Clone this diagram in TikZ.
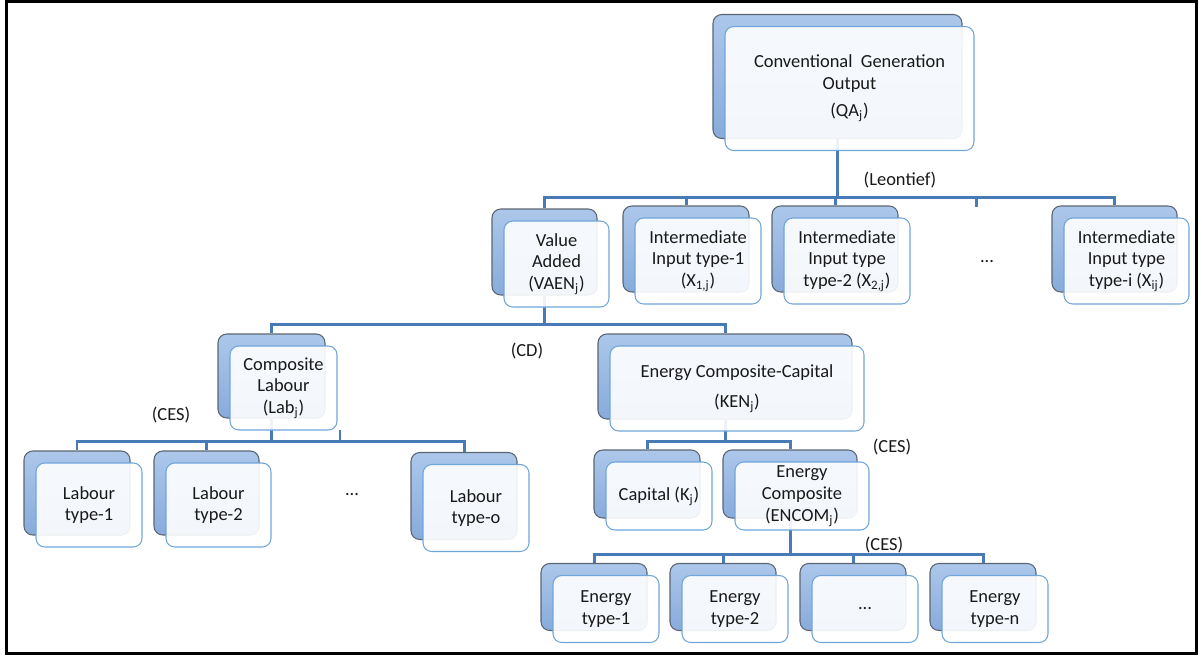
\documentclass[tikz,border=0pt]{standalone}
\usepackage{fontspec}
\setmainfont{Carlito}
\usepackage{xcolor}
\usetikzlibrary{calc}
\definecolor{linkblue}{RGB}{72,122,184}
\definecolor{backtop}{RGB}{172,199,234}
\definecolor{backbot}{RGB}{136,171,219}
\definecolor{backedge}{RGB}{92,102,115}
\definecolor{frontedge}{RGB}{112,166,218}
\definecolor{inktext}{RGB}{25,25,25}
\pgfdeclarelayer{bg}
\pgfsetlayers{bg,main}
\tikzset{
  backbox/.style={draw=backedge, line width=0.6pt, rounded corners=5pt,
    top color=backtop, bottom color=backbot, inner sep=0pt},
  frontbox/.style={draw=frontedge, line width=0.6pt, rounded corners=5pt,
    fill=white, fill opacity=0.9, text opacity=1, text=inktext, align=center,
    inner sep=0pt, font=\fontsize{10.5}{12.4}\selectfont},
  link/.style={draw=linkblue, line width=1.7pt},
  rule/.style={text=inktext, font=\fontsize{10.5}{12.4}\selectfont},
}
% back box named #1-b, front box named #1; #2,#3 = centre of back box
\newcommand{\twobox}[6]{%
  \node[backbox, minimum width=#4*0.02cm, minimum height=#5*0.02cm] (#1-b) at (#2,#3) {};
  \node[frontbox, minimum width=#4*0.02cm, minimum height=#5*0.02cm] (#1) at ($(#1-b)+(12,12)$) {#6};
}

\begin{document}
\begin{tikzpicture}[x=0.02cm, y=-0.02cm]
  \useasboundingbox (0,0) rectangle (1202,656);
  % frame
  \draw[line width=1.4pt] (6.5,1.5) rectangle (1196.5,653.5);

  % output
  \twobox{qa}{837.5}{76.5}{249}{124}{Conventional\ \ Generation\\Output\\[3pt](QA\textsubscript{j})}

  % value added and intermediate inputs
  \twobox{va}{544.5}{252}{105}{86}{Value\\Added\\(VAEN\textsubscript{j})}
  \twobox{xa}{686}{249}{126}{86}{Intermediate\\Input type-1\\(X\textsubscript{1,j})}
  \twobox{xb}{835}{249}{126}{86}{Intermediate\\Input type\\type-2 (X\textsubscript{2,j})}
  \twobox{xi}{1114.5}{249}{125}{86}{Intermediate\\Input type\\type-i (X\textsubscript{ij})}
  \node[rule] (xdots) at (987,262) {...};
  \coordinate (xdots-t) at (976,207);

  % labour and capital-energy
  \twobox{lab}{271.5}{376}{107}{84}{Composite\\Labour\\(Lab\textsubscript{j})}
  \twobox{ken}{725}{376.5}{254}{85}{Energy Composite-Capital\\[5pt](KEN\textsubscript{j})}

  % labour types
  \twobox{la}{77}{493}{106}{84}{Labour\\type-1}
  \twobox{lb}{206.5}{493}{105}{84}{Labour\\type-2}
  \twobox{lo}{464}{496}{106}{87}{Labour\\type-o}
  \node[rule] (ldots) at (352,495) {...};

  % capital and energy composite
  \twobox{cap}{647}{484}{106}{68}{Capital (K\textsubscript{j})}
  \twobox{encom}{790}{484}{134}{68}{Energy\\Composite\\(ENCOM\textsubscript{j})}

  % energy types
  \twobox{ea}{594}{597}{106}{67}{Energy\\type-1}
  \twobox{eb}{723}{597}{106}{67}{Energy\\type-2}
  \twobox{ec}{853}{597}{106}{67}{...}
  \twobox{en}{983}{597}{106}{67}{Energy\\type-n}

  % nesting labels
  \node[rule] (leontief) at (900,180) {(Leontief)};
  \node[rule] (cd) at (527,351) {(CD)};
  \node[rule] (ces-l) at (171,415) {(CES)};
  \node[rule] (ces-k) at (892,447) {(CES)};
  \node[rule] (ces-e) at (884,545) {(CES)};

  % connectors, behind the boxes
  \begin{pgfonlayer}{bg}
    \draw[link] (qa-b.south) -- ++(0,58.5) coordinate (lt);
    \foreach \k in {va-b,xa-b,xb-b,xi-b}
      \draw[link] (lt) -| (\k.north);
    \draw[link] (lt) -| (xdots-t);

    \draw[link] (va-b.south) -- ++(0,29) coordinate (lm);
    \foreach \k in {lab-b,ken-b}
      \draw[link] (lm) -| (\k.north);

    \draw[link] (lab-b.south) -- ++(0,23) coordinate (ll);
    \foreach \k in {la-b,lb-b,lo-b}
      \draw[link] (ll) -| (\k.north);
    \coordinate (labx) at (340,430);
    \draw[link] (labx) -- (labx |- ll);

    \draw[link] (ken-b.south) -- ++(0,22) coordinate (lr);
    \foreach \k in {cap-b,encom-b}
      \draw[link] (lr) -| (\k.north);

    \draw[link] (encom-b.south) -- ++(0,35.5) coordinate (le);
    \foreach \k in {ea-b,eb-b,ec-b,en-b}
      \draw[link] (le) -| (\k.north);
  \end{pgfonlayer}
\end{tikzpicture}
\end{document}
